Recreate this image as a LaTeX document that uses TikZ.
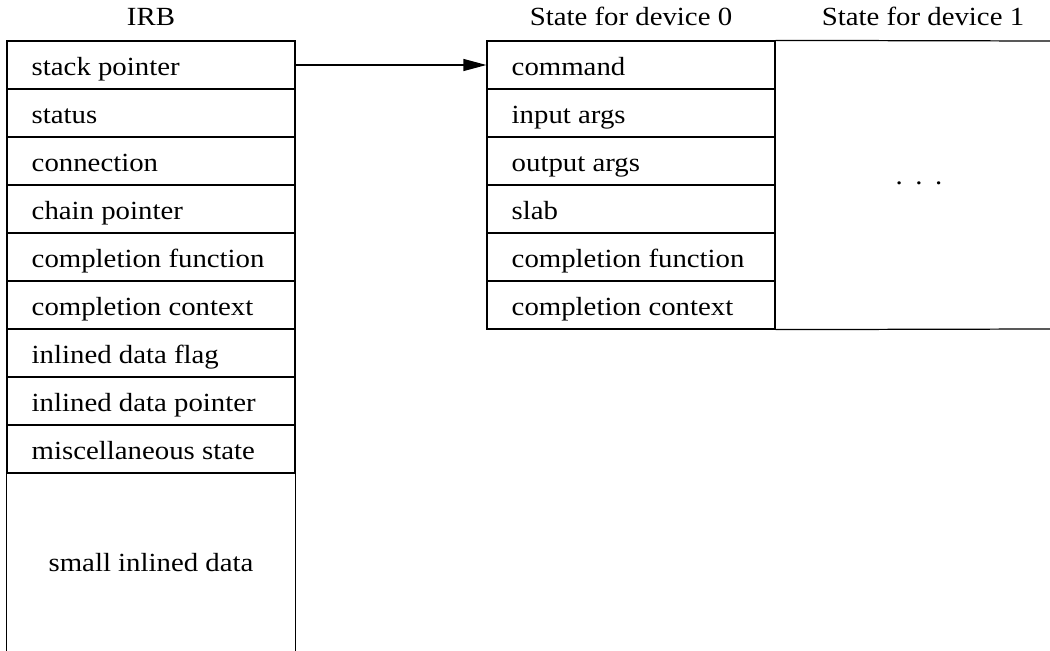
\documentclass[tikz,border=0pt]{standalone}
\usepackage{fontspec}
\setmainfont{Liberation Serif}[FakeStretch=1.1]
\usetikzlibrary{arrows.meta, positioning}

\begin{document}
\begin{tikzpicture}[
    every node/.style={font=\fontsize{14.9}{18}\selectfont, inner sep=0pt},
    field/.style={draw, line width=0.7pt, minimum width=5.76cm, minimum height=0.96cm},
    fieldtext/.style={anchor=base west, at={(#1.west)}, xshift=0.5cm, yshift=-0.21cm},
]
    % Define the row height
    \def\rowsize{0.96}

    \useasboundingbox (0,0) rectangle (21,-13.02);

    % IRB fields
    \foreach \name [count=\i] in {stack pointer, status, connection, chain pointer,
        completion function, completion context, inlined data flag,
        inlined data pointer, miscellaneous state} {
        \node[field] (irb-\i) at (3.02, -1.30 - \i*\rowsize + \rowsize) {};
        \node[fieldtext=irb-\i] (irbtext-\i) {\name};
    }
    \draw[line width=0.7pt] (irb-9.south west) -- ++(0,-3.8);
    \draw[line width=0.7pt] (irb-9.south east) -- ++(0,-3.8);
    \node[anchor=base] (smalldata) at (3.02, -11.42) {small inlined data};

    % State for device 0
    \foreach \name [count=\i] in {command, input args, output args, slab,
        completion function, completion context} {
        \node[field] (dev0-\i) at (12.62, -1.30 - \i*\rowsize + \rowsize) {};
        \node[fieldtext=dev0-\i] (dev0text-\i) {\name};
    }

    % State for device 1
    \draw[line width=0.7pt] (dev0-1.north east) -- (21, -0.82);
    \draw[line width=0.7pt] (dev0-6.south east) -- (21, -6.58);
    \node (moredevices) at (18.38, -3.66) {.\hspace{0.25cm}.\hspace{0.25cm}.};

    % Labels
    \node[anchor=base] (irbtitle) at (3.02, -0.52) {IRB};
    \node[anchor=base] (dev0title) at (12.62, -0.52) {State for device 0};
    \node[anchor=base] (dev1title) at (18.46, -0.52) {State for device 1};

    \draw[line width=0.7pt, -{Triangle[length=0.46cm, width=0.24cm]}] (irb-1.east) -- (dev0-1.west);

\end{tikzpicture}
\end{document}
